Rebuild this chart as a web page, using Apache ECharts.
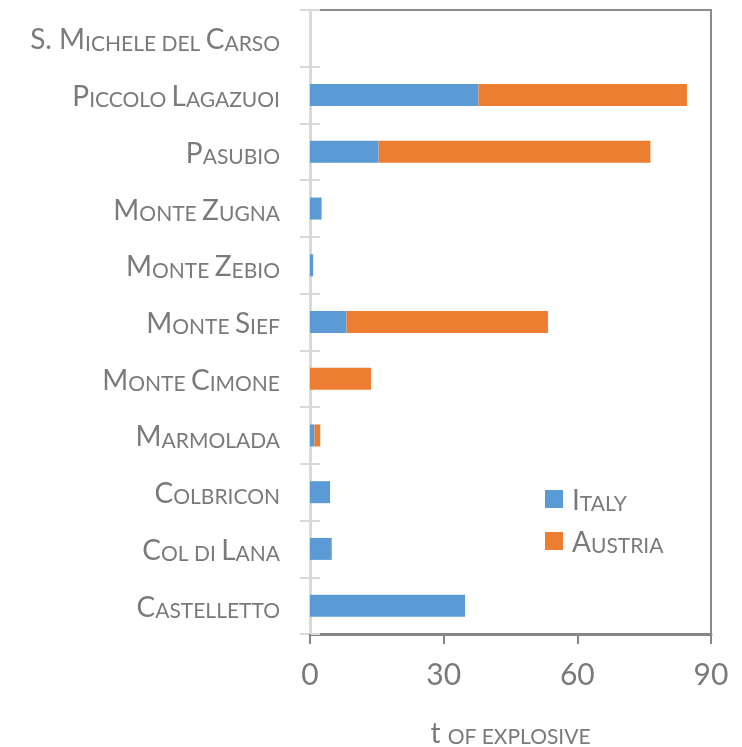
<!DOCTYPE html>
<html>
<head>
<meta charset="utf-8">
<script src="https://cdn.jsdelivr.net/npm/echarts@6/dist/echarts.min.js"></script>
<style>
  html, body { margin: 0; padding: 0; background: #fff; }
  #chart { width: 742px; height: 747px; }
</style>
</head>
<body>
<div id="chart"></div>
<script>
// categories listed bottom to top
var categories = ['Castelletto', 'Col di Lana', 'Colbricon', 'Marmolada', 'Monte Cimone',
  'Monte Sief', 'Monte Zebio', 'Monte Zugna', 'Pasubio', 'Piccolo Lagazuoi', 'S. Michele del Carso'];
var italy   = [34.8, 4.7, 4.5, 1.0, 0, 8.2, 0.7, 2.6, 15.4, 37.8, 0];
var austria = [0, 0.2, 0, 1.3, 13.7, 45.2, 0, 0, 61.0, 46.8, 0];
var xTicks = [0, 30, 60, 90];

var grey = '#7a7a7a';
var font = 'Lato';

// fake small caps: lowercase letters drawn as smaller capitals
function smallCaps(str) {
  var out = '', run = '', low = null;
  function flush() {
    if (run) out += '{' + (low ? 's' : 'b') + '|' + (low ? run.toUpperCase() : run) + '}';
    run = '';
  }
  for (var i = 0; i < str.length; i++) {
    var c = str[i];
    var isLow = c !== c.toUpperCase();
    if (c === ' ') isLow = low;
    if (low !== null && isLow !== low) flush();
    low = isLow;
    run += c;
  }
  flush();
  return out;
}

var rich = {
  b: { fontFamily: font, fontSize: 28, color: grey, lineHeight: 32, verticalAlign: 'bottom' },
  s: { fontFamily: font, fontSize: 21, color: grey, lineHeight: 32, verticalAlign: 'bottom' }
};

var chart = echarts.init(document.getElementById('chart'));
chart.setOption({
  animation: false,
  grid: {
    left: 310, right: 31, top: 10, bottom: 113,
    outerBoundsMode: 'none',
    containLabel: false,
    show: true, borderColor: '#8c8c8c', borderWidth: 2
  },
  legend: {
    orient: 'vertical',
    left: 540, top: 482,
    itemWidth: 18, itemHeight: 18, itemGap: 14,
    icon: 'rect',
    data: ['Italy', 'Austria'],
    formatter: function (n) { return smallCaps(n); },
    textStyle: { rich: rich, padding: [0, 0, 0, 4] }
  },
  xAxis: {
    type: 'value',
    min: 0, max: 90, interval: 30,
    axisLine: { show: true, lineStyle: { color: '#878787', width: 3 } },
    axisTick: { show: true, length: 10, lineStyle: { color: '#878787', width: 2 } },
    splitLine: { show: false },
    axisLabel: {
      margin: 26, color: grey, fontFamily: font, fontSize: 30,
      formatter: function (v) { return xTicks.indexOf(v) >= 0 ? String(v) : ''; }
    },
    name: '{b|t }{s|OF EXPLOSIVE}',
    nameLocation: 'middle',
    nameGap: 82,
    nameTextStyle: { rich: rich }
  },
  yAxis: [{
    type: 'category',
    data: categories,
    axisLine: { show: true, lineStyle: { color: '#d9d9d9', width: 3 } },
    axisTick: { show: true, length: 10, lineStyle: { color: '#d9d9d9', width: 2 } },
    axisLabel: {
      margin: 30,
      formatter: function (v) { return smallCaps(v); },
      rich: rich
    }
  }, {
    type: 'category',
    data: categories,
    position: 'left',
    axisLine: { show: false },
    axisTick: { show: true, inside: true, length: 10, lineStyle: { color: '#d9d9d9', width: 2 } },
    axisLabel: { show: false }
  }],
  series: [{
    name: 'Italy', type: 'bar', stack: 'total', data: italy,
    barWidth: 22, itemStyle: { color: '#5b9bd5' }
  }, {
    name: 'Austria', type: 'bar', stack: 'total', data: austria,
    barWidth: 22, itemStyle: { color: '#ed7d31' }
  }]
});
</script>
</body>
</html>
